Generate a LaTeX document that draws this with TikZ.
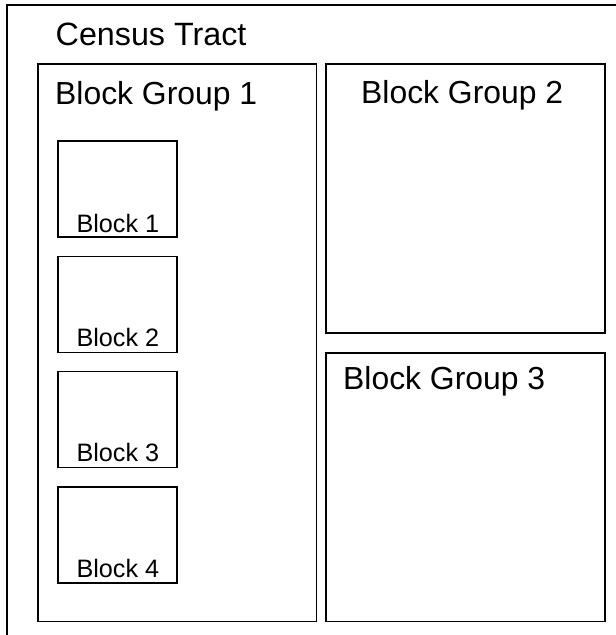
\documentclass[tikz,border=0pt]{standalone}
\usepackage{fontspec}
\setmainfont{Liberation Sans}
\begin{document}
\begin{tikzpicture}[x=1bp,y=-1bp,
  frame/.style={draw=black,line width=1.8bp,rectangle,inner sep=0pt,anchor=north west},
  lbl/.style={anchor=base west,inner sep=0pt,text=black},
  big/.style={lbl,font=\fontsize{32}{35}\selectfont},
  small/.style={lbl,font=\fontsize{25.3}{28}\selectfont}]
\useasboundingbox (0,0) rectangle (616,635);
% outer census tract (cut off at right and bottom)
\coordinate (tbl) at (7,640);
\coordinate (ttl) at (7,5);
\coordinate (ttr) at (625,5);
\draw[line width=2bp] (tbl) -- (ttl) -- (ttr);
\node[lbl,font=\fontsize{32.4}{35}\selectfont] (tract) at (55.5,46) {Census Tract};
% block groups
\node[frame,minimum width=278.5bp,minimum height=557bp] (bg1) at (37,63.5) {};
\node[frame,minimum width=278.5bp,minimum height=268.5bp] (bg2) at (325.3,63.5) {};
\node[frame,minimum width=278.5bp,minimum height=268.5bp] (bg3) at (325.3,352) {};
\node[big] (bg1t) at (55,104.5) {Block Group 1};
\node[big] (bg2t) at (361,103.5) {Block Group 2};
\node[big] (bg3t) at (343,389) {Block Group 3};
% blocks
\node[frame,minimum width=119.5bp,minimum height=96bp] (b1) at (56.7,140) {};
\node[frame,minimum width=119.5bp,minimum height=96bp] (b2) at (56.7,255.5) {};
\node[frame,minimum width=119.5bp,minimum height=96bp] (b3) at (56.7,370.5) {};
\node[frame,minimum width=119.5bp,minimum height=96bp] (b4) at (56.7,485.7) {};
\node[small] (b1t) at (76.3,232) {Block 1};
\node[small] (b2t) at (76.3,346.5) {Block 2};
\node[small] (b3t) at (76.3,461.8) {Block 3};
\node[small] (b4t) at (76.3,577) {Block 4};
\end{tikzpicture}
\end{document}
